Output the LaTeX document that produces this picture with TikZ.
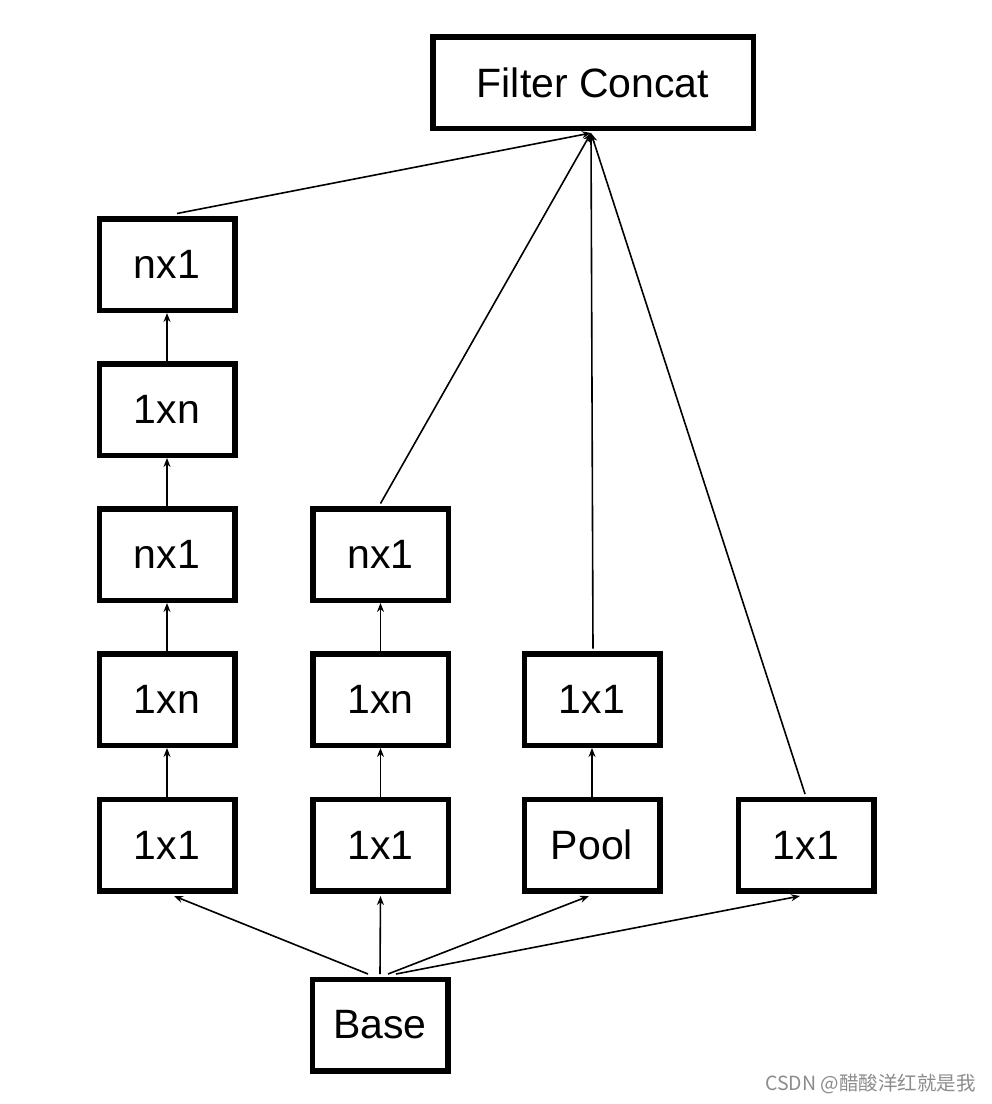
\documentclass[tikz,border=0pt]{standalone}
\usepackage{fontspec}
\setmainfont{Liberation Sans}
\newfontfamily\cjkfont{Noto Sans CJK SC}
\usetikzlibrary{arrows.meta,calc}
\begin{document}
\begin{tikzpicture}[x=1pt,y=-1pt,
  blk/.style={draw=black,line width=5.5pt,rectangle,minimum width=135.5pt,minimum height=91.5pt,inner sep=0pt,font=\fontsize{41}{44}\selectfont,fill=white},
  conn/.style={draw=black,line width=1.6pt,-{Stealth[length=9pt,width=7pt]}}]
\useasboundingbox (0,0) rectangle (992,1104);
\fill[white] (0,0) rectangle (992,1104);
% Filter Concat
\node[blk,minimum width=320.5pt] (fc) at (593,82.5) {Filter Concat};
% column 1
\node[blk] (a1) at (167,845) {1x1};
\node[blk] (a2) at (167,699.5) {1xn};
\node[blk] (a3) at (167,554.5) {nx1};
\node[blk] (a4) at (167,409.5) {1xn};
\node[blk] (a5) at (167,264.5) {nx1};
% column 2
\node[blk] (b1) at (380.5,845) {1x1};
\node[blk] (b2) at (380.5,699.5) {1xn};
\node[blk] (b3) at (380.5,554.5) {nx1};
% column 3
\node[blk] (c1) at (592,845) {Pool};
\node[blk] (c2) at (592,699.5) {1x1};
% column 4
\node[blk] (d1) at (806,845) {1x1};
% base
\node[blk] (base) at (380,1025) {Base};
% watermark
\node[anchor=east,text=black!45,font=\cjkfont\fontsize{19.5}{22}\selectfont,inner sep=0pt] (wm) at (976,1084) {CSDN @醋酸洋红就是我};
% converge point
\coordinate (fcin) at (591,133);
% vertical chains
\draw[conn] (a1) -- (a2);
\draw[conn] (a2) -- (a3);
\draw[conn] (a3) -- (a4);
\draw[conn] (a4) -- (a5);
\draw[conn] (b1) -- (b2);
\draw[conn] (b2) -- (b3);
\draw[conn] (c1) -- (c2);
% to filter concat
\draw[conn] ($(a5.north)+(10,-2.5)$) -- (fcin);
\draw[conn] ($(b3.north)+(0,-2.5)$) -- (fcin);
\draw[conn] ($(c2.north)+(1,-2.5)$) -- (fcin);
\draw[conn] ($(d1.north)+(-1,-2.5)$) -- (fcin);
% from base
\draw[conn] ($(base.north)+(-12,-2.5)$) -- ($(a1.south)+(7,2.5)$);
\draw[conn] ($(base.north)+(0,-2.5)$) -- ($(b1.south)+(0,2.5)$);
\draw[conn] ($(base.north)+(8,-2.5)$) -- ($(c1.south)+(-3,2.5)$);
\draw[conn] ($(base.north)+(16,-2.5)$) -- ($(d1.south)+(-6,2.5)$);
\end{tikzpicture}
\end{document}
